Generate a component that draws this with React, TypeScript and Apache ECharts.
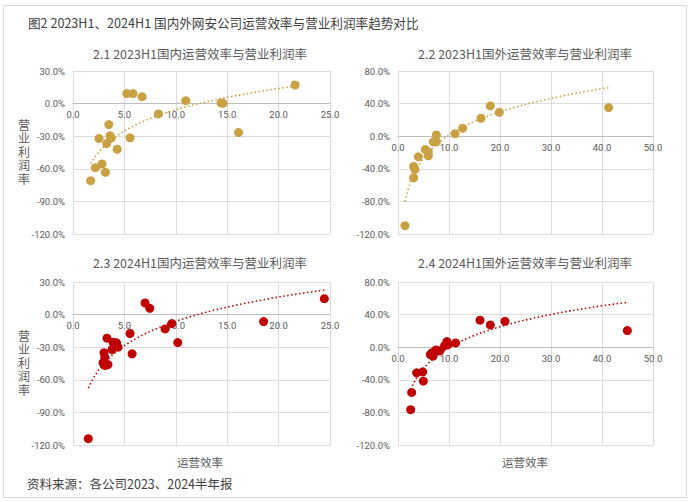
import React, { useEffect, useRef } from "react";
import * as echarts from "echarts";

const mainTitle = "图2 2023H1、2024H1 国内外网安公司运营效率与营业利润率趋势对比";
const panelTitles = [
  "2.1 2023H1国内运营效率与营业利润率",
  "2.2 2023H1国外运营效率与营业利润率",
  "2.3 2024H1国内运营效率与营业利润率",
  "2.4 2024H1国外运营效率与营业利润率",
];
const yAxisName = "营业利润率";
const xAxisName = "运营效率";
const sourceText = "资料来源：各公司2023、2024半年报";

// [运营效率, 营业利润率(%)]
const domestic2023: number[][] = [
  [1.72, -70.9], [2.18, -59.0], [2.82, -55.6], [3.15, -63.2], [2.53, -32.1],
  [3.28, -36.7], [3.48, -19.3], [3.6, -29.6], [3.72, -31.8], [4.3, -42.0],
  [5.23, 9.2], [5.84, 9.2], [5.55, -31.5], [6.72, 6.4], [8.31, -9.5],
  [10.97, 2.7], [14.4, 0.6], [14.6, 0.3], [16.1, -26.6], [21.6, 17.1],
];
const foreign2023: number[][] = [
  [1.37, -109.8], [3.07, -51.0], [3.07, -37.1], [3.33, -40.8], [3.99, -25.3],
  [5.36, -16.3], [5.95, -19.2], [5.95, -24.1], [6.93, -6.9], [7.52, -6.9],
  [7.52, 1.6], [11.18, 2.9], [12.68, 9.8], [16.27, 22.0], [18.1, 37.1],
  [19.87, 29.4], [41.3, 35.1],
];
const domestic2024: number[][] = [
  [1.49, -114.2], [3.31, -21.7], [3.9, -25.4], [4.23, -26.0], [3.8, -32.1],
  [4.38, -30.0], [3.02, -35.1], [3.09, -39.2], [2.92, -44.4], [3.18, -46.8],
  [3.4, -46.0], [3.05, -46.5], [5.55, -17.4], [5.75, -36.1], [7.01, 10.7],
  [7.47, 5.8], [8.96, -13.2], [9.61, -8.3], [10.19, -25.7], [18.54, -6.4],
  [24.45, 14.7],
];
const foreign2024: number[][] = [
  [2.48, -76.7], [2.68, -55.5], [3.66, -31.4], [4.84, -30.2], [4.97, -41.6],
  [6.34, -9.0], [6.67, -6.9], [6.86, -11.0], [7.45, -3.3], [8.24, -4.5],
  [9.15, 2.0], [9.6, 6.9], [9.74, 2.9], [11.3, 5.3], [16.08, 33.1],
  [18.1, 27.3], [20.98, 31.8], [44.97, 20.4],
];

const gold = "#C9A042";
const red = "#C00000";

function logTrend(pts: number[][]): number[][] {
  const n = pts.length;
  let sx = 0, sy = 0, sxx = 0, sxy = 0;
  pts.forEach(([x, y]) => {
    const l = Math.log(x);
    sx += l; sy += y; sxx += l * l; sxy += l * y;
  });
  const b = (n * sxy - sx * sy) / (n * sxx - sx * sx);
  const a = (sy - b * sx) / n;
  const xs = pts.map((p) => p[0]);
  const x0 = Math.min(...xs), x1 = Math.max(...xs);
  const out: number[][] = [];
  const steps = 80;
  for (let i = 0; i <= steps; i++) {
    const x = x0 + ((x1 - x0) * i) / steps;
    out.push([x, a + b * Math.log(x)]);
  }
  return out;
}

const FONT = "'Noto Sans CJK SC', 'Noto Sans', sans-serif";
const NUMFONT = "Roboto, 'Noto Sans', sans-serif";

const grids = [
  { left: 73, top: 71, width: 257, height: 163 },
  { left: 398, top: 71, width: 255, height: 163 },
  { left: 73, top: 282, width: 257, height: 163 },
  { left: 398, top: 282, width: 255, height: 163 },
];
const datasets = [domestic2023, foreign2023, domestic2024, foreign2024];
const colors = [gold, gold, red, red];
const xMax = [25, 50, 25, 50];
const xInt = [5, 10, 5, 10];
const yMin = -120;
const yMax = [30, 80, 30, 80];
const yInt = [30, 40, 30, 40];

function panelOption(i: number): any {
  // move the x axis up from the bottom edge to where y = 0
  const zeroOffset = -(grids[i].height * (0 - yMin)) / (yMax[i] - yMin);
  return {
    animation: false,
    grid: grids[i],
    xAxis: {
      type: "value",
      min: 0,
      max: xMax[i],
      interval: xInt[i],
      position: "bottom",
      offset: zeroOffset,
      axisLine: { onZero: false, lineStyle: { color: "#BFBFBF", width: 1 } },
      axisTick: { show: false },
      axisLabel: {
        color: "#595959",
        fontSize: 9.5,
        fontFamily: NUMFONT,
        margin: 6,
        formatter: (v: number) => v.toFixed(1),
      },
      splitLine: { show: true, lineStyle: { color: "#DCDCDC", width: 1 } },
    },
    yAxis: {
      type: "value",
      min: yMin,
      max: yMax[i],
      interval: yInt[i],
      axisLine: { show: false, onZero: false },
      axisTick: { show: false },
      axisLabel: {
        color: "#595959",
        fontSize: 9.5,
        fontFamily: NUMFONT,
        margin: 8,
        formatter: (v: number) => v.toFixed(1) + "%",
      },
      splitLine: { show: true, lineStyle: { color: "#DCDCDC", width: 1 } },
    },
    series: [
      {
        type: "line",
        data: logTrend(datasets[i]),
        showSymbol: false,
        symbol: "none",
        lineStyle: { color: colors[i], width: 1.6, type: [1.5, 2.5] },
        z: 2,
        silent: true,
      },
      {
        type: "scatter",
        data: datasets[i],
        symbolSize: 9,
        itemStyle: { color: colors[i], opacity: 1 },
        z: 3,
      },
    ],
  };
}

function baseOption(): any {
  const titlePos = [
    [200, 53], [525, 53], [200, 262], [525, 262],
  ];
  const graphic: any[] = [
    {
      type: "rect",
      shape: { x: 3.5, y: 5.5, width: 683, height: 492 },
      style: { fill: "none", stroke: "#D9D9D9", lineWidth: 1 },
      silent: true,
    },
    {
      type: "text",
      x: 28,
      y: 22,
      style: {
        text: mainTitle,
        fill: "#404040",
        font: `12.6px ${FONT}`,
        textVerticalAlign: "middle",
      },
    },
    {
      type: "text",
      x: 27,
      y: 483,
      style: {
        text: sourceText,
        fill: "#404040",
        font: `12.5px ${FONT}`,
        textVerticalAlign: "middle",
      },
    },
  ];
  panelTitles.forEach((t, i) => {
    graphic.push({
      type: "text",
      x: titlePos[i][0],
      y: titlePos[i][1],
      style: {
        text: t,
        fill: "#595959",
        font: `12.5px ${FONT}`,
        textAlign: "center",
        textVerticalAlign: "middle",
      },
    });
  });
  [[24, 151], [24, 362]].forEach(([x, y]) => {
    graphic.push({
      type: "text",
      x,
      y,
      style: {
        text: yAxisName.split("").join("\n"),
        fill: "#595959",
        font: `12px ${FONT}`,
        lineHeight: 13.5,
        textAlign: "center",
        textVerticalAlign: "middle",
      },
    });
  });
  [[200, 462], [525, 462]].forEach(([x, y]) => {
    graphic.push({
      type: "text",
      x,
      y,
      style: {
        text: xAxisName,
        fill: "#595959",
        font: `11.5px ${FONT}`,
        textAlign: "center",
        textVerticalAlign: "middle",
      },
    });
  });
  return { animation: false, backgroundColor: "#FFFFFF", graphic };
}

const layerStyle: React.CSSProperties = {
  position: "absolute",
  left: 0,
  top: 0,
  width: 690,
  height: 502,
};

export default function App() {
  const baseRef = useRef<HTMLDivElement>(null);
  const r0 = useRef<HTMLDivElement>(null);
  const r1 = useRef<HTMLDivElement>(null);
  const r2 = useRef<HTMLDivElement>(null);
  const r3 = useRef<HTMLDivElement>(null);
  useEffect(() => {
    const charts: echarts.ECharts[] = [];
    if (baseRef.current) {
      const c = echarts.init(baseRef.current, undefined, { renderer: "svg" });
      c.setOption(baseOption());
      charts.push(c);
    }
    [r0, r1, r2, r3].forEach((r, i) => {
      if (!r.current) return;
      const c = echarts.init(r.current, undefined, { renderer: "svg" });
      c.setOption(panelOption(i));
      charts.push(c);
    });
    return () => charts.forEach((c) => c.dispose());
  }, []);
  return (
    <div style={{ position: "fixed", left: 0, top: 0, width: 690, height: 502, background: "#fff" }}>
      <div ref={baseRef} style={layerStyle} />
      <div ref={r0} style={layerStyle} />
      <div ref={r1} style={layerStyle} />
      <div ref={r2} style={layerStyle} />
      <div ref={r3} style={layerStyle} />
    </div>
  );
}
